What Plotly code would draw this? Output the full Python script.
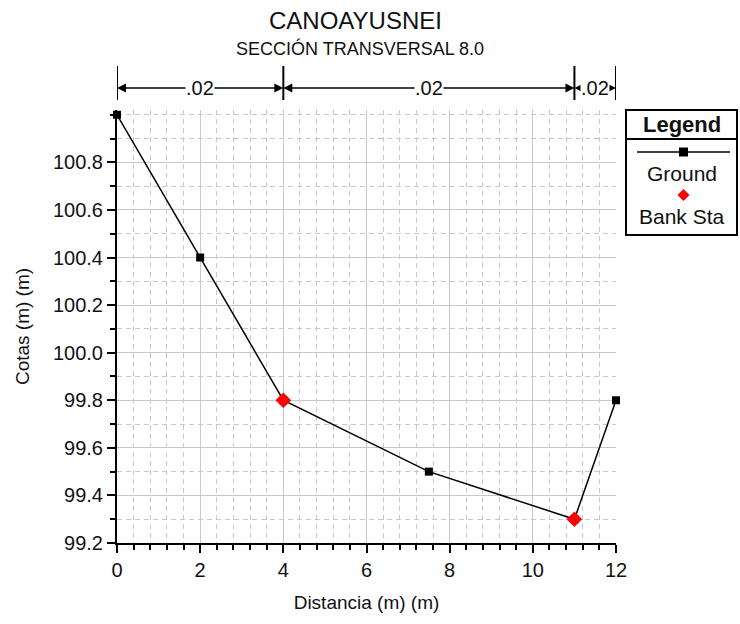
import plotly.graph_objects as go

# Cross-section survey: station (m) and elevation (m)
station = [0, 2, 4, 7.5, 11, 12]
elevation = [101.0, 100.4, 99.8, 99.5, 99.3, 99.8]

# Bank stations
bank_station = [4, 11]
bank_elevation = [99.8, 99.3]

# Manning's n zones: boundaries and values
n_bounds = [0, 4, 11, 12]
n_values = [".02", ".02", ".02"]

y_ticks = [99.2, 99.4, 99.6, 99.8, 100.0, 100.2, 100.4, 100.6, 100.8]
x_ticks = [0, 2, 4, 6, 8, 10, 12]

FONT = "Liberation Sans, Arial, sans-serif"
TXT = "#111"

W, H = 740, 624
ML, MR, MT, MB = 117, 124, 110, 81
PW, PH = W - ML - MR, H - MT - MB


def px_x(px):
    """Pixel column -> paper x."""
    return (px - ML) / PW


def px_y(py):
    """Pixel row -> paper y."""
    return 1 - (py - MT) / PH


fig = go.Figure()

fig.add_trace(go.Scatter(
    x=station, y=elevation, mode="lines+markers", name="Ground",
    line=dict(color="black", width=1.5),
    marker=dict(symbol="square", size=8, color="black"),
    cliponaxis=False, showlegend=False,
))
fig.add_trace(go.Scatter(
    x=bank_station, y=bank_elevation, mode="markers", name="Bank Sta",
    marker=dict(symbol="diamond", size=12, color="#ff0000"),
    cliponaxis=False, showlegend=False,
))

grid = "#c8c8c8"
common = dict(
    showline=True, linecolor="black", linewidth=2,
    ticks="outside", ticklen=8, tickcolor="black", tickwidth=2,
    showgrid=True, gridcolor=grid, gridwidth=1,
    tickfont=dict(family=FONT, size=20, color=TXT),
    zeroline=False,
)
fig.update_xaxes(
    range=[0, 12], tickvals=x_ticks, ticktext=[str(v) for v in x_ticks],
    minor=dict(dtick=0.4, tick0=0, ticks="outside", ticklen=5, tickcolor="black", tickwidth=1.5,
               showgrid=True, gridcolor=grid, griddash="5px,4px", gridwidth=1),
    title=dict(text="Distancia (m) (m)", font=dict(family=FONT, size=19, color=TXT), standoff=16),
    **common,
)
fig.update_yaxes(
    range=[99.2, 101.02], tickvals=y_ticks, ticktext=[f"{v:.1f}" for v in y_ticks],
    minor=dict(dtick=0.1, tick0=99.2, ticks="outside", ticklen=5, tickcolor="black", tickwidth=1.5,
               showgrid=True, gridcolor=grid, griddash="5px,4px", gridwidth=1),
    title=dict(text="Cotas (m) (m)", font=dict(family=FONT, size=19, color=TXT), standoff=18),
    **common,
)

shapes = []
annotations = []

# n-value brackets above the plot
y_top, y_bot, y_arr = px_y(66), px_y(100), px_y(88)
for b in n_bounds:
    shapes.append(dict(type="line", xref="x", yref="paper", x0=b, x1=b, y0=y_bot, y1=y_top,
                       line=dict(color="black", width=2)))
for i, val in enumerate(n_values):
    a, b = n_bounds[i], n_bounds[i + 1]
    mid = (a + b) / 2
    for end in (a, b):
        annotations.append(dict(x=end, y=y_arr, xref="x", yref="paper", ax=mid, ay=0,
                                axref="x", ayref="pixel", text="", showarrow=True,
                                arrowhead=2, arrowsize=1.2, arrowwidth=1.5, arrowcolor="black"))
    annotations.append(dict(x=mid, y=y_arr, xref="x", yref="paper", text=val, showarrow=False,
                            xanchor="center", yanchor="middle",
                            font=dict(family=FONT, size=20, color=TXT),
                            bgcolor="white", borderpad=0))

# Legend box on the right
lx0, lx1 = px_x(626), px_x(737)
lcx = px_x(681.5)
shapes += [
    dict(type="rect", xref="paper", yref="paper", x0=lx0, x1=lx1, y0=px_y(235), y1=px_y(110),
         line=dict(color="black", width=2), fillcolor="white"),
    dict(type="line", xref="paper", yref="paper", x0=lx0, x1=lx1, y0=px_y(139), y1=px_y(139),
         line=dict(color="black", width=2)),
    dict(type="line", xref="paper", yref="paper", x0=px_x(637), x1=px_x(730),
         y0=px_y(152), y1=px_y(152), line=dict(color="black", width=1.5)),
    dict(type="rect", xref="paper", yref="paper", x0=px_x(679), x1=px_x(688),
         y0=px_y(156.5), y1=px_y(147.5), line=dict(width=0), fillcolor="black"),
    dict(type="path", xref="paper", yref="paper",
         path=(f"M {px_x(683.5)} {px_y(189)} L {px_x(689.5)} {px_y(195)} "
               f"L {px_x(683.5)} {px_y(201)} L {px_x(677.5)} {px_y(195)} Z"),
         line=dict(width=0), fillcolor="#ff0000"),
]
annotations += [
    dict(x=lcx, y=px_y(124), xref="paper", yref="paper", text="<b>Legend</b>", showarrow=False,
         xanchor="center", yanchor="middle", font=dict(family=FONT, size=22, color=TXT)),
    dict(x=lcx, y=px_y(173), xref="paper", yref="paper", text="Ground", showarrow=False,
         xanchor="center", yanchor="middle", font=dict(family=FONT, size=21, color=TXT)),
    dict(x=lcx, y=px_y(216), xref="paper", yref="paper", text="Bank Sta", showarrow=False,
         xanchor="center", yanchor="middle", font=dict(family=FONT, size=21, color=TXT)),
]

# Chart title and subtitle
annotations += [
    dict(x=px_x(355), y=px_y(20), xref="paper", yref="paper", text="CANOAYUSNEI", showarrow=False,
         xanchor="center", yanchor="middle", font=dict(family=FONT, size=24, color=TXT)),
    dict(x=px_x(360), y=px_y(48), xref="paper", yref="paper", text="SECCIÓN TRANSVERSAL 8.0",
         showarrow=False, xanchor="center", yanchor="middle",
         font=dict(family=FONT, size=18, color=TXT)),
]

fig.update_layout(
    width=W, height=H,
    margin=dict(l=ML, r=MR, t=MT, b=MB),
    plot_bgcolor="white", paper_bgcolor="white",
    shapes=shapes, annotations=annotations,
    showlegend=False,
)

fig.write_html("out.html")
